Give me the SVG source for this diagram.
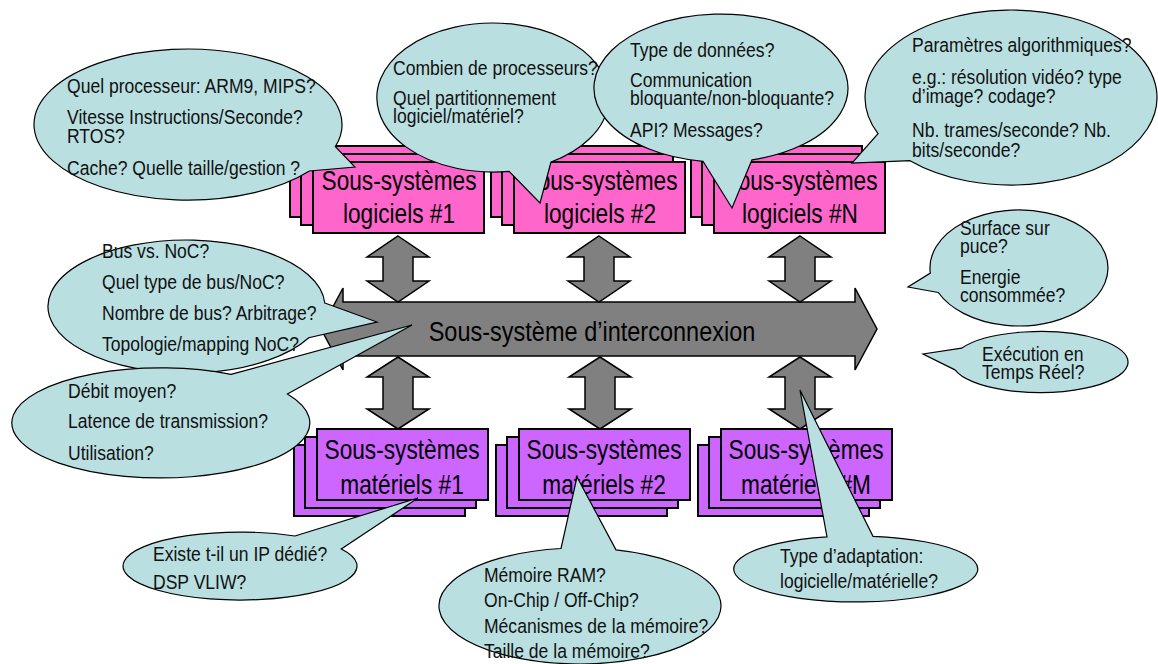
<svg xmlns="http://www.w3.org/2000/svg" width="1158" height="664" viewBox="0 0 1158 664">
  <style>
    .sw { fill: #FF66CC; stroke: #000; stroke-width: 2; }
    .hw { fill: #CC66FF; stroke: #000; stroke-width: 2; }
    .link { fill: #808080; stroke: #000; stroke-width: 1.5; stroke-linejoin: miter; }
    .bubble { fill: #B9DFE1; stroke: #000; stroke-width: 1.2; stroke-linejoin: miter; }
    .big { font-family: "Liberation Sans", Arial, sans-serif; font-size: 28px; fill: #000; text-anchor: middle; }
    .q { font-family: "Liberation Sans", Arial, sans-serif; font-size: 19.5px; fill: #111; }
  </style>
  <defs>
    <polygon id="dbl-short" points="0,0 31,21 15,21 15,45 31,45 0,66 -31,45 -15,45 -15,21 -31,21"/>
    <polygon id="dbl-long" points="0,0 31,20 15,20 15,52 31,52 0,72 -31,52 -15,52 -15,20 -31,20"/>
  </defs>

  <!-- software subsystems (stacked cards) -->
  <g id="sw1">
    <rect class="sw" x="290" y="146" width="171" height="71"/>
    <rect class="sw" x="301" y="154" width="171" height="71"/>
    <rect class="sw" x="313" y="162" width="171" height="71"/>
    <text class="big" transform="translate(399,0) scale(0.81,1)" x="0" y="190">Sous-systèmes</text>
    <text class="big" transform="translate(399,0) scale(0.81,1)" x="0" y="223">logiciels #1</text>
  </g>
  <g id="sw2">
    <rect class="sw" x="491" y="146" width="171" height="71"/>
    <rect class="sw" x="502" y="154" width="171" height="71"/>
    <rect class="sw" x="514" y="162" width="171" height="71"/>
    <text class="big" transform="translate(600,0) scale(0.81,1)" x="0" y="190">Sous-systèmes</text>
    <text class="big" transform="translate(600,0) scale(0.81,1)" x="0" y="223">logiciels #2</text>
  </g>
  <g id="swN">
    <rect class="sw" x="691" y="146" width="171" height="71"/>
    <rect class="sw" x="702" y="154" width="171" height="71"/>
    <rect class="sw" x="714" y="162" width="171" height="71"/>
    <text class="big" transform="translate(800,0) scale(0.81,1)" x="0" y="190">Sous-systèmes</text>
    <text class="big" transform="translate(800,0) scale(0.81,1)" x="0" y="223">logiciels #N</text>
  </g>

  <!-- hardware subsystems (stacked cards) -->
  <g id="hw1">
    <rect class="hw" x="294" y="445" width="171" height="71"/>
    <rect class="hw" x="305" y="437" width="171" height="71"/>
    <rect class="hw" x="317" y="429" width="171" height="71"/>
    <text class="big" transform="translate(402,0) scale(0.81,1)" x="0" y="459">Sous-systèmes</text>
    <text class="big" transform="translate(402,0) scale(0.81,1)" x="0" y="494">matériels #1</text>
  </g>
  <g id="hw2">
    <rect class="hw" x="496" y="445" width="171" height="71"/>
    <rect class="hw" x="507" y="437" width="171" height="71"/>
    <rect class="hw" x="519" y="429" width="171" height="71"/>
    <text class="big" transform="translate(604,0) scale(0.81,1)" x="0" y="459">Sous-systèmes</text>
    <text class="big" transform="translate(604,0) scale(0.81,1)" x="0" y="494">matériels #2</text>
  </g>
  <g id="hwM">
    <rect class="hw" x="698" y="445" width="171" height="71"/>
    <rect class="hw" x="709" y="437" width="171" height="71"/>
    <rect class="hw" x="721" y="429" width="171" height="71"/>
    <text class="big" transform="translate(806,0) scale(0.81,1)" x="0" y="459">Sous-systèmes</text>
    <text class="big" transform="translate(806,0) scale(0.81,1)" x="0" y="494">matériels #M</text>
  </g>

  <!-- interconnect backbone -->
  <g id="interconnect">
    <polygon class="link" points="321,329 343,288 343,302 855,302 855,288 877,329 855,370 855,356 343,356 343,370"/>
    <text class="big" transform="translate(592,0) scale(0.84,1)" x="0" y="341">Sous-système d’interconnexion</text>
  </g>

  <!-- links between subsystems and the backbone -->
  <g id="connectors">
    <use href="#dbl-short" class="link" transform="translate(398,236)"/>
    <use href="#dbl-short" class="link" transform="translate(599,236)"/>
    <use href="#dbl-short" class="link" transform="translate(800,236)"/>
    <use href="#dbl-long" class="link" transform="translate(398,357)"/>
    <use href="#dbl-long" class="link" transform="translate(600,357)"/>
    <use href="#dbl-long" class="link" transform="translate(800,357)"/>
  </g>

  <!-- question callouts -->
  <g id="q-processeur">
    <path class="bubble" d="M335.3,146.6 L355,167 L309.4,171 A154,75.5 0 1 1 335.3,146.6 Z"/>
    <g class="q" transform="translate(67,0) scale(0.9,1)">
      <text x="0" y="93">Quel processeur: ARM9, MIPS?</text>
      <text x="0" y="124">Vitesse Instructions/Seconde?</text>
      <text x="0" y="143">RTOS?</text>
      <text x="0" y="175">Cache? Quelle taille/gestion ?</text>
    </g>
  </g>

  <g id="q-partition">
    <path class="bubble" d="M551,162 L540,203 L509.1,171.3 A116,74.5 0 1 1 551,162 Z"/>
    <g class="q" transform="translate(393,0) scale(0.9,1)">
      <text x="0" y="75">Combien de processeurs?</text>
      <text x="0" y="105">Quel partitionnement</text>
      <text x="0" y="123">logiciel/matériel?</text>
    </g>
  </g>

  <g id="q-communication">
    <path class="bubble" d="M752,159.8 L732,208 L703,161.3 A127,74 0 1 1 752,159.8 Z"/>
    <g class="q" transform="translate(630,0) scale(0.9,1)">
      <text x="0" y="57">Type de données?</text>
      <text x="0" y="87">Communication</text>
      <text x="0" y="105">bloquante/non-bloquante?</text>
      <text x="0" y="137">API? Messages?</text>
    </g>
  </g>

  <g id="q-algorithme">
    <path class="bubble" d="M910,160.7 L852,163 L878,133.6 A146,87.5 0 1 1 910,160.7 Z"/>
    <g class="q" transform="translate(912,0) scale(0.9,1)">
      <text x="0" y="52">Paramètres algorithmiques?</text>
      <text x="0" y="84">e.g.: résolution vidéo? type</text>
      <text x="0" y="103">d’image? codage?</text>
      <text x="0" y="137">Nb. trames/seconde? Nb.</text>
      <text x="0" y="157">bits/seconde?</text>
    </g>
  </g>

  <g id="q-bus">
    <path class="bubble" d="M324.8,303 L377,322 L308.8,337.7 A138.5,66.5 0 1 1 324.8,303 Z"/>
    <g class="q" transform="translate(102,0) scale(0.9,1)">
      <text x="0" y="258">Bus vs. NoC?</text>
      <text x="0" y="289">Quel type de bus/NoC?</text>
      <text x="0" y="320">Nombre de bus? Arbitrage?</text>
      <text x="0" y="351">Topologie/mapping NoC?</text>
    </g>
  </g>

  <g id="q-debit">
    <path class="bubble" d="M231,374.4 L412,325 L287.4,393.9 A149,55 0 1 1 231,374.4 Z"/>
    <g class="q" transform="translate(68,0) scale(0.9,1)">
      <text x="0" y="398">Débit moyen?</text>
      <text x="0" y="428">Latence de transmission?</text>
      <text x="0" y="460">Utilisation?</text>
    </g>
  </g>

  <g id="q-surface">
    <path class="bubble" d="M938.3,292.5 L908,287 L930.3,273.1 A89,58 0 1 1 938.3,292.5 Z"/>
    <g class="q" transform="translate(960,0) scale(0.9,1)">
      <text x="0" y="235">Surface sur</text>
      <text x="0" y="253">puce?</text>
      <text x="0" y="284">Energie</text>
      <text x="0" y="302">consommée?</text>
    </g>
  </g>

  <g id="q-temps-reel">
    <path class="bubble" d="M955,369.9 L923,354 L961.6,348.2 A88,30.5 0 1 1 955,369.9 Z"/>
    <g class="q" transform="translate(982,0) scale(0.9,1)">
      <text x="0" y="361">Exécution en</text>
      <text x="0" y="379">Temps Réel?</text>
    </g>
  </g>

  <g id="q-ip">
    <path class="bubble" d="M294.9,536 L418,498 L341.3,549 A117,34 0 1 1 294.9,536 Z"/>
    <g class="q" transform="translate(153,0) scale(0.9,1)">
      <text x="0" y="561">Existe t-il un IP dédié?</text>
      <text x="0" y="589">DSP VLIW?</text>
    </g>
  </g>

  <g id="q-memoire">
    <path class="bubble" d="M561,548.5 L577,477 L616,549.9 A141,58 0 1 1 561,548.5 Z"/>
    <g class="q" transform="translate(484,0) scale(0.9,1)">
      <text x="0" y="582">Mémoire RAM?</text>
      <text x="0" y="607">On-Chip / Off-Chip?</text>
      <text x="0" y="633">Mécanismes de la mémoire?</text>
      <text x="0" y="658">Taille de la mémoire?</text>
    </g>
  </g>

  <g id="q-adaptation">
    <path class="bubble" d="M827,536.9 L800,390 L873,536.3 A122,33 0 1 1 827,536.9 Z"/>
    <g class="q" transform="translate(780,0) scale(0.9,1)">
      <text x="0" y="563">Type d’adaptation:</text>
      <text x="0" y="588">logicielle/matérielle?</text>
    </g>
  </g>
</svg>
